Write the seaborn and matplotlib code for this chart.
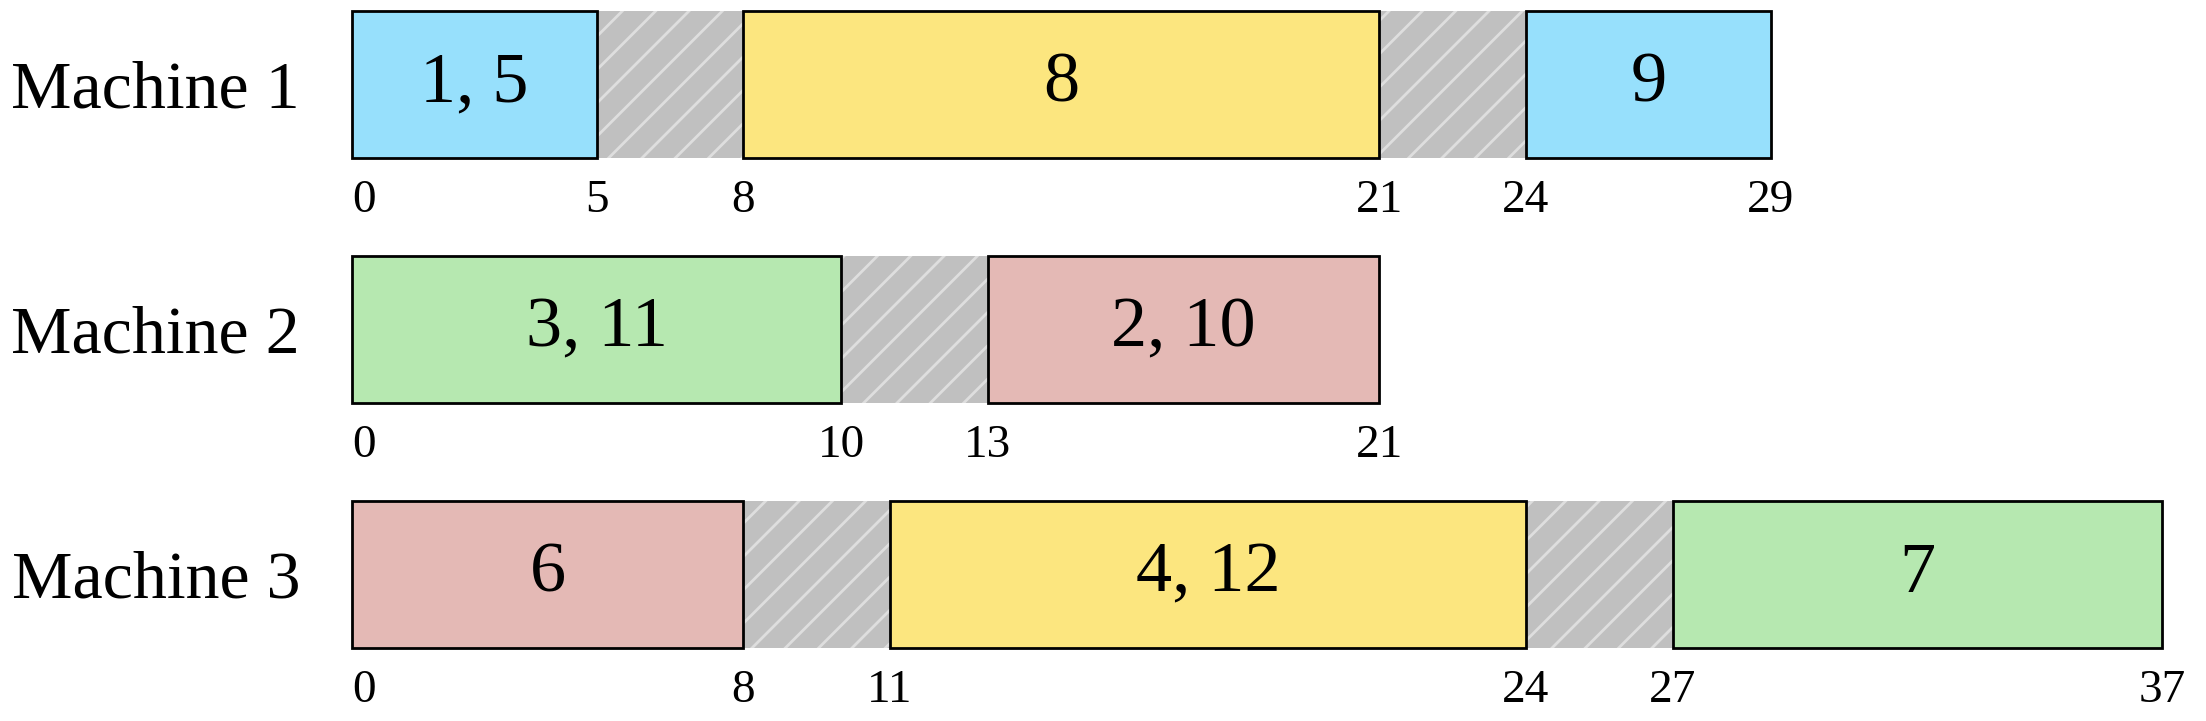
import matplotlib.pyplot as plt
import seaborn as sns
import pandas as pd

machines = ["Machine 1", "Machine 2", "Machine 3"]

job_machine = [0, 0, 0, 1, 1, 2, 2, 2]
job_start = [0, 8, 24, 0, 13, 0, 11, 27]
job_end = [5, 21, 29, 10, 21, 8, 24, 37]
job_label = ["1, 5", "8", "9", "3, 11", "2, 10", "6", "4, 12", "7"]
job_color = ["#97e0fc", "#fce67f", "#97e0fc", "#b6e8b0", "#e4b9b5", "#e4b9b5", "#fce67f", "#b6e8b0"]

idle_machine = [0, 0, 1, 2, 2]
idle_start = [5, 21, 10, 8, 24]
idle_end = [8, 24, 13, 11, 27]

jobs = pd.DataFrame({"machine": job_machine, "start": job_start, "end": job_end,
                     "label": job_label, "color": job_color})
idle = pd.DataFrame({"machine": idle_machine, "start": idle_start, "end": idle_end})

sns.set_theme(style="white")
plt.rcParams["font.family"] = ["Liberation Serif", "DejaVu Serif"]
plt.rcParams["text.color"] = "black"
plt.rcParams["ytick.color"] = "black"
plt.rcParams["hatch.linewidth"] = 1.0

fig = plt.figure(figsize=(11.03, 3.605), dpi=200)
ax = fig.add_axes([352 / 2206, 0, (2162 - 352) / 2206, 1])

h = 0.6
# idle gaps: grey with light diagonal hatch
ax.barh(idle["machine"], idle["end"] - idle["start"], left=idle["start"], height=h,
        color="#c0c0c0", edgecolor="#dedede", linewidth=0, hatch="//")

# jobs
bars = ax.barh(jobs["machine"], jobs["end"] - jobs["start"], left=jobs["start"], height=h,
               color=jobs["color"], edgecolor="black", linewidth=1.0, zorder=3)
for b in bars:
    b.set_clip_on(False)
for _, r in jobs.iterrows():
    ax.text((r["start"] + r["end"]) / 2, r["machine"], r["label"], ha="center", va="center",
            fontsize=26, zorder=4)

# time labels under each row
for m in range(len(machines)):
    sub = jobs[jobs["machine"] == m]
    times = sorted(set(sub["start"]) | set(sub["end"]))
    for t in times:
        ax.text(t, m + h / 2 + 0.09, str(t), ha="left" if t == 0 else "center", va="top",
                fontsize=17)

ax.set_xlim(0, 37)
ax.set_ylim(2.60, -0.345)
ax.set_yticks(range(len(machines)), machines, fontsize=24.5)
ax.set_xticks([])
ax.tick_params(axis="y", length=0, pad=18.7)
sns.despine(ax=ax, left=True, bottom=True)

fig.savefig("out.png", dpi=200)
